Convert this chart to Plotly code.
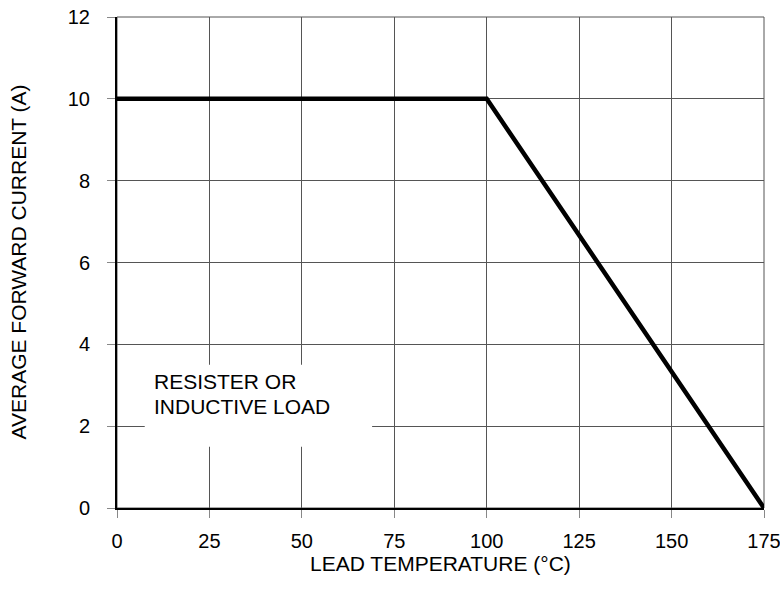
import plotly.graph_objects as go

temp = [0, 100, 175]
current = [10, 10, 0]
x_ticks = [0, 25, 50, 75, 100, 125, 150, 175]
y_ticks = [0, 2, 4, 6, 8, 10, 12]
label_lines = ["RESISTER OR", "INDUCTIVE LOAD"]
label_y = [3.08, 2.49]

font = "Liberation Sans, Arial, sans-serif"
fs = 21
tfs = 20
fig = go.Figure()
fig.add_trace(go.Scatter(x=temp, y=current, mode="lines",
                         line=dict(color="black", width=4.5), showlegend=False))

fig.add_shape(type="rect", x0=7.5, x1=69, y0=1.5, y1=3.5, xref="x", yref="y",
              fillcolor="white", line=dict(width=0), layer="above")
for txt, yy in zip(label_lines, label_y):
    fig.add_annotation(x=9.6, y=yy, xref="x", yref="y", text=txt,
                       showarrow=False, xanchor="left", yanchor="middle", align="left",
                       font=dict(family=font, size=fs, color="black"))

axis_common = dict(showgrid=True, gridcolor="#555555", gridwidth=1,
                   ticks="outside", ticklen=8, tickcolor="#888888",
                   tickfont=dict(family=font, size=tfs, color="black"),
                   zeroline=False, showline=True, linecolor="black", linewidth=2,
                   mirror=False, automargin=False, ticklabeloverflow="allow")
fig.update_xaxes(range=[0, 175], tickvals=x_ticks, ticklabelstandoff=6, **axis_common)
fig.update_yaxes(range=[0, 12], tickvals=y_ticks, ticklabelstandoff=13, **axis_common)

fig.add_annotation(x=0.5, y=0, xref="paper", yref="paper", yanchor="middle",
                   yshift=-55, text="LEAD TEMPERATURE (°C)", showarrow=False,
                   font=dict(family=font, size=fs, color="black"))
fig.add_annotation(x=0, y=0.5, xref="paper", yref="paper", xanchor="center",
                   xshift=-99, textangle=-90, text="AVERAGE FORWARD CURRENT (A)",
                   showarrow=False, font=dict(family=font, size=fs, color="black"))

# top/right frame in grey
fig.add_shape(type="rect", x0=0, x1=1, y0=0, y1=1, xref="paper", yref="paper",
              line=dict(color="#555555", width=1), layer="below")

fig.update_layout(width=780, height=590, margin=dict(l=117, r=16, t=17, b=82),
                  plot_bgcolor="white", paper_bgcolor="white")
fig.write_html("out.html", config={"displayModeBar": False})

with open("out.html", "r", encoding="utf-8") as f:
    html = f.read()
html = html.replace("<body>", '<body style="margin:0;overflow:hidden">', 1)
with open("out.html", "w", encoding="utf-8") as f:
    f.write(html)
